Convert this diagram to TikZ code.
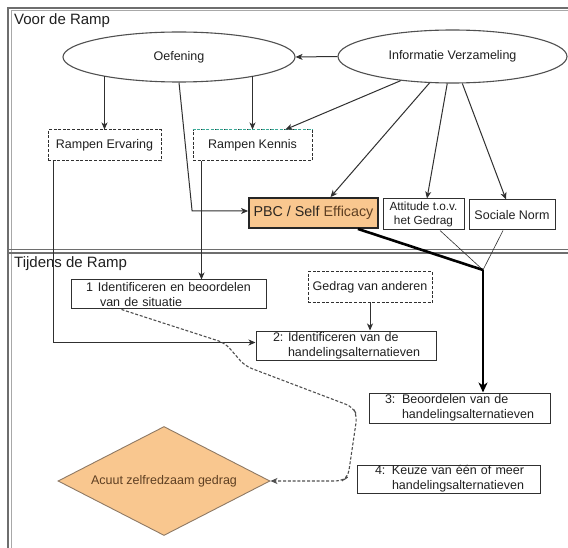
\documentclass[tikz,border=0pt]{standalone}
\usepackage{fontspec}
\setmainfont{Liberation Sans}
\usetikzlibrary{shapes.geometric,arrows.meta,calc}

\definecolor{lineC}{HTML}{303030}
\definecolor{ellC}{HTML}{505050}
\definecolor{frameC}{HTML}{6E6E6E}
\definecolor{frameL}{HTML}{A8A8A8}
\definecolor{textC}{HTML}{202020}
\definecolor{orangeF}{HTML}{F9C78F}
\definecolor{brownT}{HTML}{5E3F22}
\definecolor{tealC}{HTML}{3AA896}

\begin{document}
\begin{tikzpicture}[x=1pt,y=-1pt,
  rimdark/.style={draw=frameC,line width=1.1pt},
  rimlight/.style={draw=frameL,line width=1pt},
  heading/.style={font=\fontsize{15}{18}\selectfont,text=textC,inner sep=0pt},
  ell/.style={ellipse,draw=ellC,line width=1.1pt,inner sep=0pt,
    font=\fontsize{12.5}{15}\selectfont,text=textC},
  dbox/.style={rectangle,draw=lineC,line width=1pt,dash pattern=on 3pt off 1.6pt,
    inner sep=0pt,font=\fontsize{12.5}{15}\selectfont,text=textC},
  sbox/.style={rectangle,draw=lineC,line width=1pt,inner sep=0pt,
    font=\fontsize{12.5}{15}\selectfont,text=textC},
  stepbox/.style={sbox,align=left},
  arr/.style={draw=lineC,line width=1pt,-{Stealth[length=7pt,width=6pt,inset=2pt]}},
  fineline/.style={draw=lineC,line width=0.6pt},
  heavy/.style={draw=black,line width=2.6pt},
  flowdash/.style={draw=ellC,line width=1.1pt,dash pattern=on 3pt off 1.8pt,
    rounded corners=7pt,-{Stealth[length=7pt,width=6pt,inset=2pt]}}
]
\useasboundingbox (0,0) rectangle (568,548);
\fill[white] (0,0) rectangle (568,548);

% frame and the divider between both phases
\draw[rimlight] (11,548) -- (11,11) -- (568,11);
\draw[rimdark] (8,548) -- (8,8) -- (568,8);
\draw[rimdark] (8,249.5) -- (568,249.5);
\draw[rimdark] (8,253) -- (568,253);
\node[heading,anchor=base west] (voor) at (14,25) {Voor de Ramp};
\node[heading,anchor=base west] (tijdens) at (14,268) {Tijdens de Ramp};

% sources of knowledge
\node[ell,minimum width=232pt,minimum height=50pt] (oef) at (179,57) {Oefening};
\node[ell,minimum width=229pt,minimum height=53pt] (inf) at (452.5,56.5) {Informatie Verzameling};
\node[dbox,minimum width=113pt,minimum height=31pt] (erv) at (104.5,145.5) {Rampen Ervaring};
\node[dbox,minimum width=119pt,minimum height=31pt] (ken) at (252.5,145.5) {Rampen Kennis};
\draw[tealC,line width=1pt,dash pattern=on 3pt off 1.6pt] (ken.north west) -- (ken.north east);

% determinants
\node[rectangle,draw=black!85,line width=1.8pt,fill=orangeF,inner sep=0pt,
  minimum width=129pt,minimum height=30pt,font=\fontsize{14.3}{17}\selectfont,text=textC!80!brownT]
  (pbc) at (313.5,213) {PBC / Self {\color{brownT}Efficacy}};
\node[sbox,align=center,minimum width=81pt,minimum height=31pt,
  font=\fontsize{11.8}{14}\selectfont] (att) at (423.5,214.5) {Attitude t.o.v.\\het Gedrag};
\node[sbox,minimum width=86pt,minimum height=30pt] (soc) at (512,215) {Sociale Norm};

% decision steps
\node[stepbox,text width=195pt,minimum height=29pt] (s1) at (168.5,294.5)
  {\hspace*{15pt}\makebox[12pt][l]{1}Identificeren en beoordelen\\\hspace*{29pt}van de situatie};
\node[dbox,minimum width=124pt,minimum height=31pt] (ged) at (370,287.5) {Gedrag van anderen};
\node[stepbox,text width=180pt,minimum height=29pt] (s2) at (346,345.5)
  {\hspace*{17pt}\makebox[15pt][l]{2:}Identificeren van de\\\hspace*{32pt}handelingsalternatieven};
\node[stepbox,text width=181pt,minimum height=30pt] (s3) at (459.5,408)
  {\hspace*{16pt}\makebox[17pt][l]{3:}Beoordelen van de\\\hspace*{33pt}handelingsalternatieven};
\node[stepbox,text width=183pt,minimum height=28pt] (s4) at (448.5,479)
  {\hspace*{18pt}\makebox[17pt][l]{4:}Keuze van één of meer\\\hspace*{35pt}handelingsalternatieven};

% outcome
\node[diamond,shape aspect=2,draw=brownT!70,line width=0.9pt,fill=orangeF,inner sep=0pt,
  minimum width=212pt,minimum height=109pt,font=\fontsize{12.5}{15}\selectfont,text=brownT]
  (act) at (164,481) {Acuut zelfredzaam gedrag};

% connectors in the preparation phase
\draw[arr] (inf.west) -- (oef.east);
\draw[arr] (erv.north |- oef.194) -- (erv.north);
\draw[arr] (ken.north |- oef.-14) -- (ken.north);
\draw[arr] (inf.205) -- ($(ken.north east)+(-27,0)$);
\draw[arr] (oef.south) -- ($(pbc.west)+(-56,-2)$) -- ($(pbc.west)+(0,-2)$);
\draw[arr] (inf.229) -- ($(pbc.north)+(17,0)$);
\draw[arr] (inf.259) -- ($(att.north)+(3.5,0)$);
\draw[arr] (inf.290) -- ($(soc.north)+(-6,0)$);

% connectors into the decision steps
\draw[arr] ($(ken.south west)+(9,0)$) coordinate (k1) -- (k1 |- s1.north);
\draw[arr] ($(erv.south west)+(6,0)$) |- ($(s2.west)+(0,-3)$);
\draw[arr] (ged.south) -- (ged.south |- s2.north);

\coordinate (j) at (483,270);
\draw[fineline] ($(att.south)+(16.5,0)$) -- (j);
\draw[fineline] ($(soc.south)+(-9,0)$) -- (j);
\draw[heavy] ($(pbc.south east)+(-21,0)$) -- (j);
\draw[heavy,-{Stealth[length=10pt,width=9pt,inset=3pt]}] (j) -- (j |- s3.north);

\draw[flowdash] ($(s1.south west)+(51,0)$) -- (225,343) -- (245,366) -- (353,407)
  -- (357,416) -- (348,477) -- (342,481) -- (act.east);
\end{tikzpicture}
\end{document}
